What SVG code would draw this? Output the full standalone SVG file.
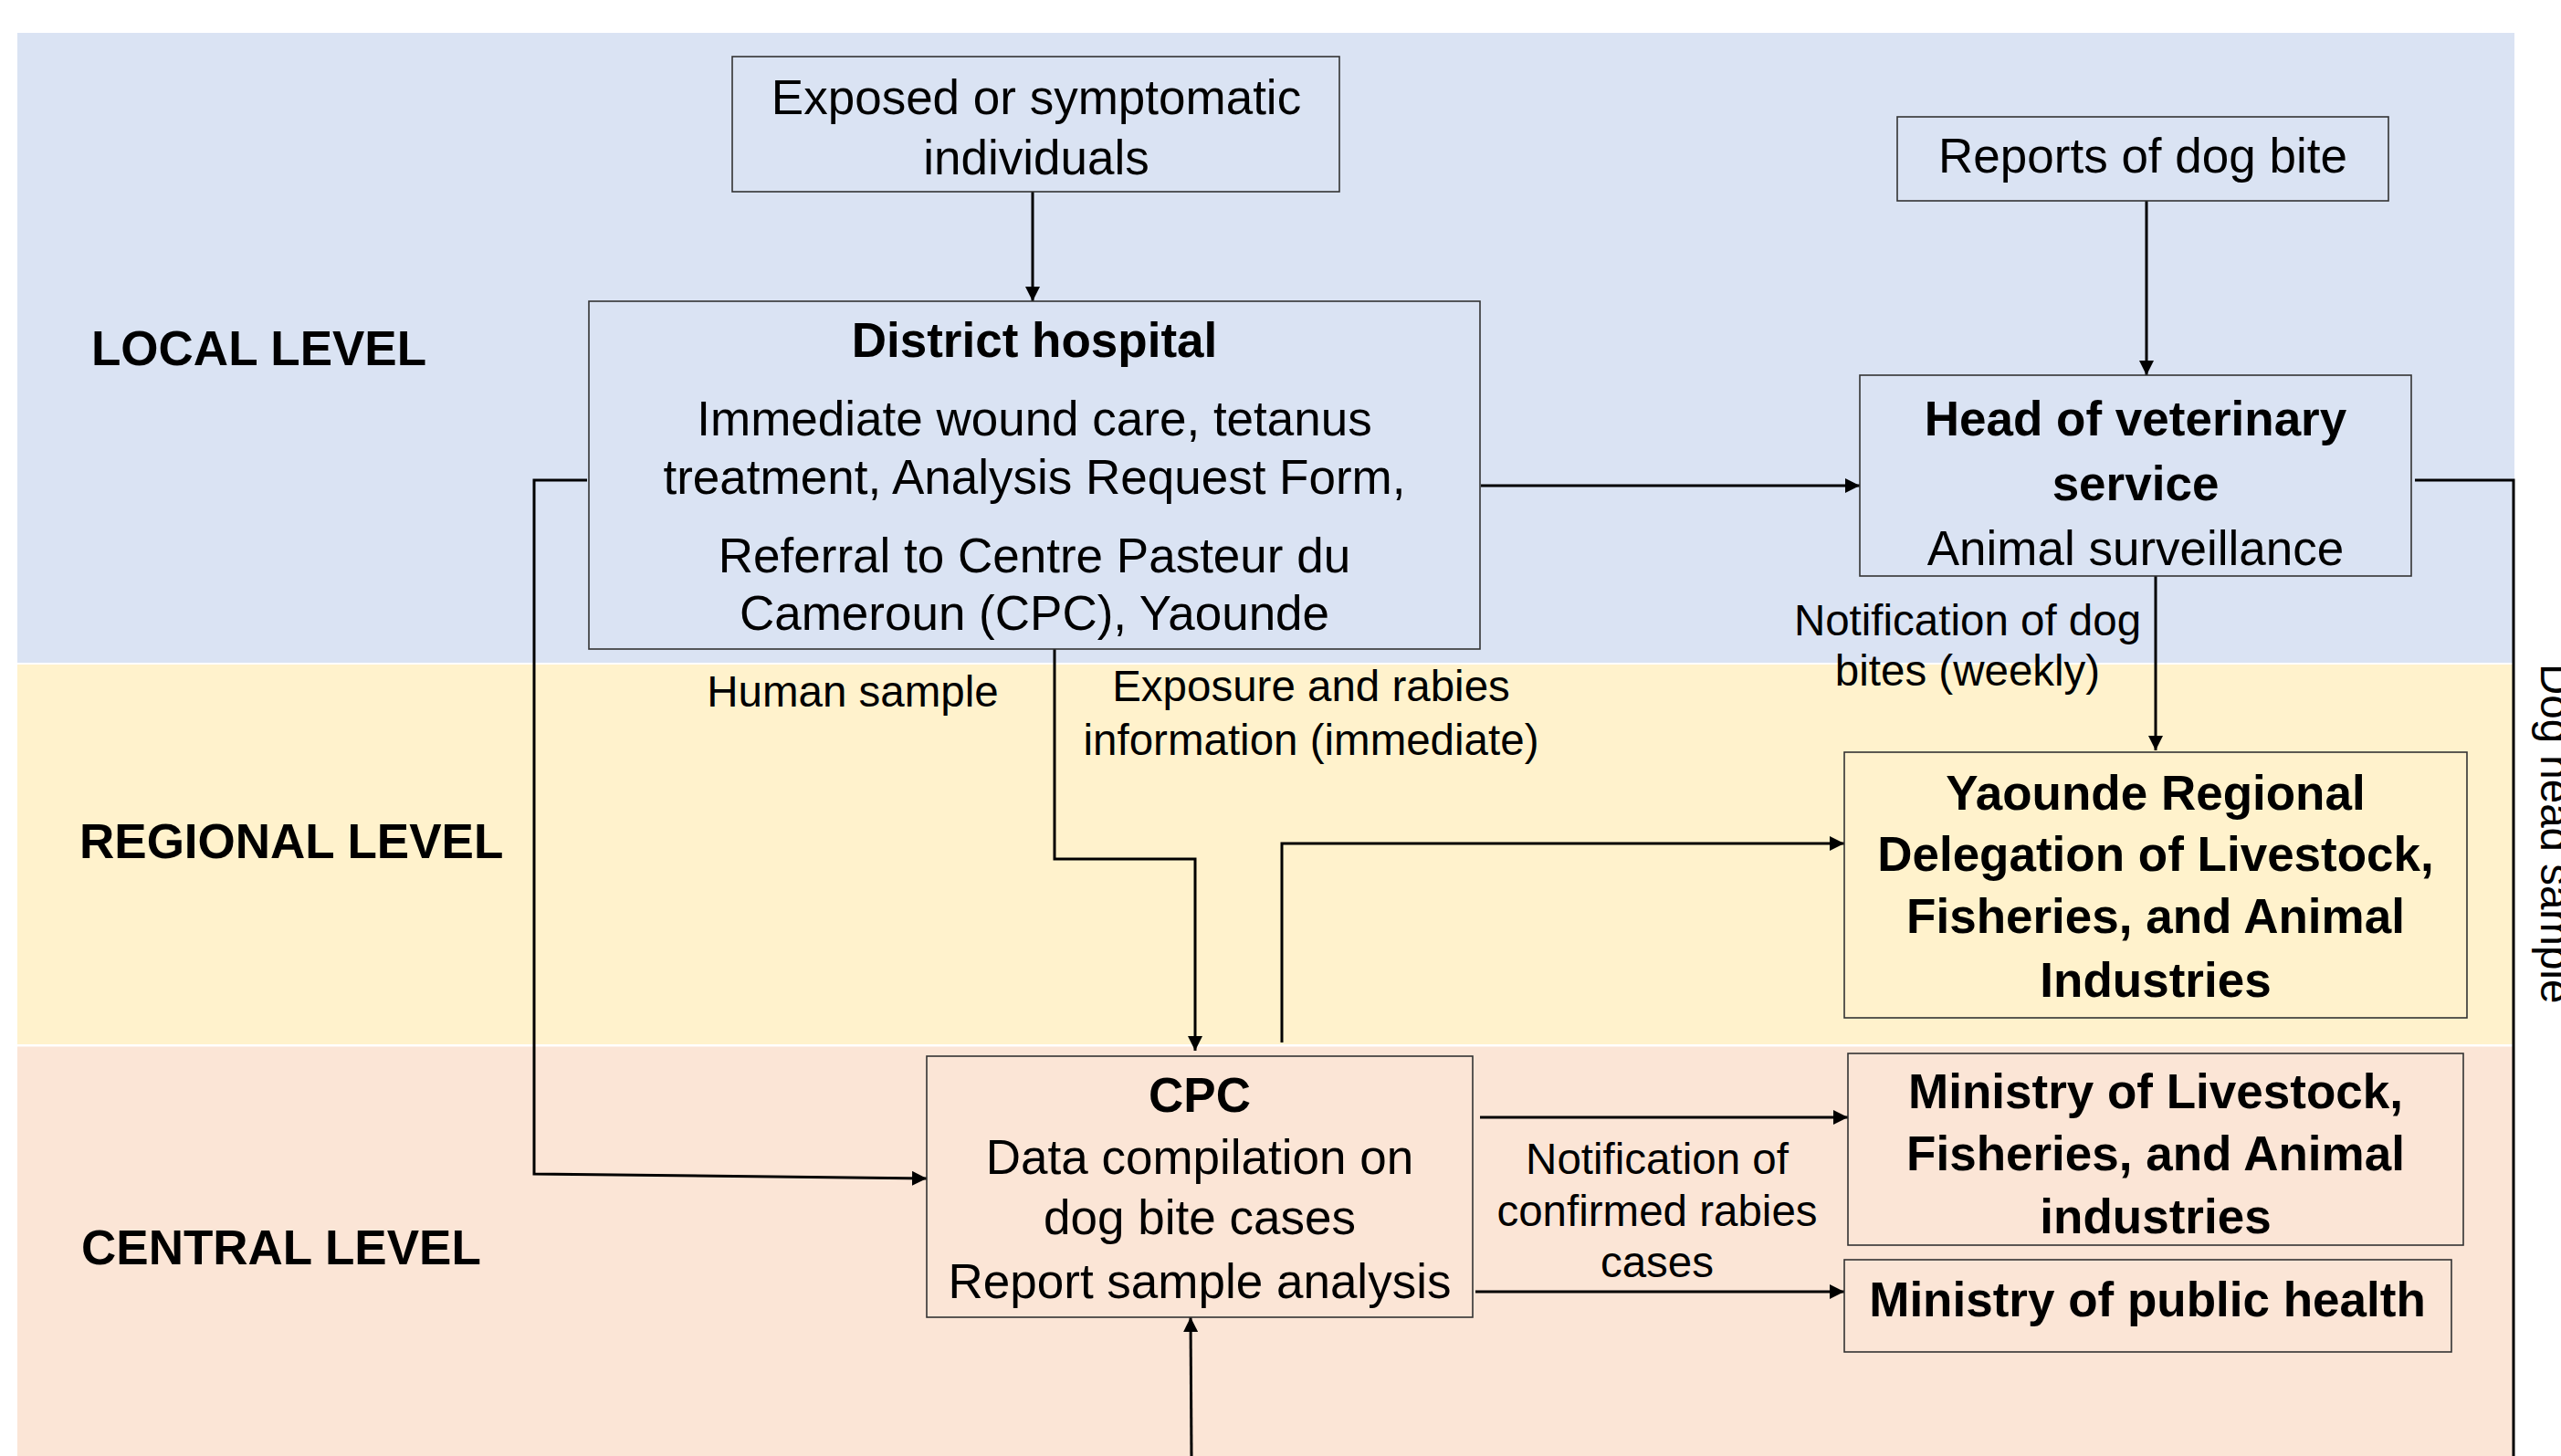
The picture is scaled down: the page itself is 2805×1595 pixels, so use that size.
<svg xmlns="http://www.w3.org/2000/svg" width="2805" height="1595" viewBox="0 0 2805 1595">
<style>
text{font-family:"Liberation Sans",Arial,sans-serif;fill:#000}
.n{font-size:53px;text-anchor:middle}
.b{font-size:53px;font-weight:bold;text-anchor:middle}
.lvl{font-size:53px;font-weight:bold}
.lbl{font-size:47.5px;text-anchor:middle}
.box{stroke:#333;stroke-width:1.6}
.c{fill:none;stroke:#000;stroke-width:3}
.a{marker-end:url(#ah)}
</style>
<defs>
<marker id="ah" markerUnits="userSpaceOnUse" markerWidth="16" markerHeight="16" refX="16" refY="8" orient="auto">
<path d="M0,0 L16,8 L0,16 z" fill="#000"/>
</marker>
</defs>
<rect width="2805" height="1595" fill="#fff"/>
<g id="bands">
<rect x="19" y="36" width="2735" height="690" fill="#DAE3F3"/>
<rect x="19" y="728" width="2735" height="416" fill="#FFF2CC"/>
<rect x="19" y="1146.5" width="2735" height="448.5" fill="#FBE5D6"/>
<text class="lvl" x="100" y="400">LOCAL LEVEL</text>
<text class="lvl" x="87" y="940">REGIONAL LEVEL</text>
<text class="lvl" x="89" y="1385">CENTRAL LEVEL</text>
</g>
<g id="connectors">
<path class="c a" d="M1131,210 V330"/>
<path class="c a" d="M2351,220 V411"/>
<path class="c a" d="M1622,532 H2037"/>
<path class="c a" d="M643,526 H585 V1286 L1015,1291"/>
<path class="c a" d="M1155,711 V941 H1309 V1151"/>
<path class="c a" d="M1404,1142 V924 H2020"/>
<path class="c a" d="M2361,631 V822"/>
<path class="c a" d="M1621,1224 H2024"/>
<path class="c a" d="M1616,1415 H2020"/>
<path class="c a" d="M1305,1595 L1304,1443"/>
<path class="c" d="M2645,526 H2753 V1595"/>
<text class="lbl" x="934" y="774">Human sample</text>
<text class="lbl" x="1436" y="768">Exposure and rabies</text>
<text class="lbl" x="1436" y="827">information (immediate)</text>
<text class="lbl" x="2155" y="696">Notification of dog</text>
<text class="lbl" x="2155" y="751">bites (weekly)</text>
<text class="lbl" x="1815" y="1286">Notification of</text>
<text class="lbl" x="1815" y="1343">confirmed rabies</text>
<text class="lbl" x="1815" y="1399">cases</text>
<text class="lbl" style="text-anchor:start" transform="translate(2783,727) rotate(90)">Dog head sample</text>
</g>
<g id="exposed">
<rect class="box" x="802" y="62" width="665" height="148" fill="#DAE3F3"/>
<text class="n" x="1135" y="125">Exposed or symptomatic</text>
<text class="n" x="1135" y="191">individuals</text>
</g>
<g id="district-hospital">
<rect class="box" x="645" y="330" width="976" height="381" fill="#DAE3F3"/>
<text class="b" x="1133" y="391">District hospital</text>
<text class="n" x="1133" y="477">Immediate wound care, tetanus</text>
<text class="n" x="1133" y="541">treatment, Analysis Request Form,</text>
<text class="n" x="1133" y="627">Referral to Centre Pasteur du</text>
<text class="n" x="1133" y="690">Cameroun (CPC), Yaounde</text>
</g>
<g id="reports">
<rect class="box" x="2078" y="128" width="538" height="92" fill="#DAE3F3"/>
<text class="n" x="2347" y="189">Reports of dog bite</text>
</g>
<g id="head-vet">
<rect class="box" x="2037" y="411" width="604" height="220" fill="#DAE3F3"/>
<text class="b" x="2339" y="477">Head of veterinary</text>
<text class="b" x="2339" y="548">service</text>
<text class="n" x="2339" y="619">Animal surveillance</text>
</g>
<g id="yaounde">
<rect class="box" x="2020" y="824" width="682" height="291" fill="#FFF2CC"/>
<text class="b" x="2361" y="887">Yaounde Regional</text>
<text class="b" x="2361" y="954">Delegation of Livestock,</text>
<text class="b" x="2361" y="1022">Fisheries, and Animal</text>
<text class="b" x="2361" y="1092">Industries</text>
</g>
<g id="cpc">
<rect class="box" x="1015" y="1157" width="598" height="286" fill="#FBE5D6"/>
<text class="b" x="1314" y="1218">CPC</text>
<text class="n" x="1314" y="1286">Data compilation on</text>
<text class="n" x="1314" y="1352">dog bite cases</text>
<text class="n" x="1314" y="1422">Report sample analysis</text>
</g>
<g id="ministry-livestock">
<rect class="box" x="2024" y="1154" width="674" height="210" fill="#FBE5D6"/>
<text class="b" x="2361" y="1214">Ministry of Livestock,</text>
<text class="b" x="2361" y="1282">Fisheries, and Animal</text>
<text class="b" x="2361" y="1351">industries</text>
</g>
<g id="ministry-health">
<rect class="box" x="2020" y="1380" width="665" height="101" fill="#FBE5D6"/>
<text class="b" x="2352" y="1442">Ministry of public health</text>
</g>
</svg>
